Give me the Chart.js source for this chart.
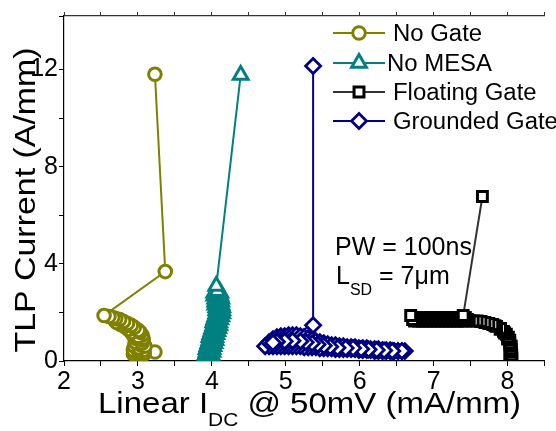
<!DOCTYPE html>
<html>
<head>
<meta charset="utf-8">
<script src="https://cdn.jsdelivr.net/npm/chart.js@4.4.1/dist/chart.umd.min.js"></script>
<style>
html,body{margin:0;padding:0;background:#fff;}
#wrap{width:556px;height:431px;position:relative;}
</style>
</head>
<body>
<div id="wrap"><canvas id="c" width="556" height="431"></canvas></div>
<script>
// ---- data: [Linear I_DC (mA/mm), TLP current (A/mm)] ----
const seriesNames = ["No Gate", "No MESA", "Floating Gate", "Grounded Gate"];

const noGatePoints = [
  [3.23,0.37],
  [3.083,0.285],[3.057,0.244],[3.017,0.203],[2.991,0.244],[2.978,0.285],[2.938,0.285],[2.991,0.366],
  [3.083,0.325],[2.964,0.366],[3.044,0.448],
  [2.938,0.448],[3.004,0.448],[3.083,0.448],[2.951,0.61],[3.017,0.529],[3.044,0.651],[3.096,0.61],
  [2.991,0.732],[3.044,0.854],
  [2.964,0.773],[3.057,0.732],[3.07,0.854],[2.964,0.936],[3.07,0.936],[2.938,1.058],[3.057,1.058],
  [3.004,1.017],[2.938,1.221],[2.872,1.343],
  [2.911,1.18],[3.03,1.18],[2.872,1.302],[3.004,1.261],[2.951,1.383],[2.819,1.424],[2.911,1.465],
  [2.74,1.587],[2.687,1.668],
  [2.766,1.505],[2.859,1.546],[2.806,1.627],[2.713,1.587],[2.753,1.709],[2.7,1.749],[2.66,1.79],
  [2.608,1.831],[2.542,1.871],
  [3.37,3.68],[3.23,11.8]
];

const noMesaPoints = [
  [3.915,0.122],[3.995,0.122],[3.955,0.183],[3.915,0.244],[3.995,0.244],[3.955,0.305],
  [3.929,0.366],[4.008,0.366],[3.968,0.427],[3.929,0.488],[4.008,0.488],[3.968,0.549],
  [3.942,0.61],[4.021,0.61],[3.981,0.671],[3.955,0.732],[4.034,0.732],[3.995,0.793],
  [3.968,0.854],[4.048,0.854],[4.008,0.915],[3.968,0.976],[4.048,0.976],[4.008,1.037],
  [3.981,1.098],[4.061,1.098],[4.021,1.159],[3.995,1.221],[4.074,1.221],[4.034,1.282],
  [4.008,1.343],[4.087,1.343],[4.048,1.404],[4.021,1.465],[4.1,1.465],[4.061,1.526],
  [4.021,1.587],[4.1,1.587],[4.061,1.648],[4.034,1.709],[4.114,1.709],[4.074,1.77],
  [4.048,1.831],[4.127,1.831],[4.087,1.892],[4.061,1.953],[4.14,1.953],[4.1,2.014],
  [4.061,2.075],[4.14,2.075],[4.1,2.136],[4.061,2.197],[4.14,2.197],[4.1,2.258],
  [4.048,2.319],[4.127,2.319],[4.087,2.38],[4.048,2.441],[4.127,2.441],[4.087,2.502],
  [4.048,2.563],[4.127,2.563],[4.087,2.624],[4.034,2.685],[4.114,2.685],[4.074,2.746],
  [4.034,2.807],[4.114,2.807],[4.074,2.868],
  [4.06,3.09],[4.39,11.77]
];

const floatingPoints = [
  [8.057,0.041],[8.057,0.122],[8.03,0.18],[8.057,0.244],[8.05,0.366],[8.04,0.43],[8.05,0.488],
  [8.05,0.61],[8.03,0.67],[8.03,0.732],[8.03,0.854],[8.0,0.9],[8.011,0.976],[7.984,1.098],
  [7.96,1.15],[7.945,1.221],[7.9,1.3],[7.905,1.343],[7.852,1.424],[7.83,1.45],[7.8,1.505],
  [7.747,1.546],[7.694,1.587],[7.641,1.627],[7.588,1.648],[7.535,1.648],[7.482,1.668],
  [7.456,1.709],[7.429,1.648],[7.429,1.79],[7.403,1.709],[7.377,1.648],[7.377,1.79],
  [7.35,1.709],[7.324,1.648],[7.324,1.79],[7.297,1.709],[7.271,1.648],[7.271,1.79],
  [7.245,1.709],[7.218,1.648],[7.218,1.79],[7.192,1.709],[7.165,1.648],[7.165,1.79],
  [7.139,1.709],[7.112,1.648],[7.112,1.79],[7.086,1.709],[7.059,1.648],[7.059,1.79],
  [7.033,1.709],[7.007,1.648],[7.007,1.79],[6.98,1.709],[6.954,1.648],[6.954,1.79],
  [6.927,1.709],[6.901,1.648],[6.901,1.79],[6.875,1.709],[6.848,1.648],[6.848,1.79],
  [6.822,1.709],[6.795,1.648],[6.795,1.79],[6.769,1.709],[6.742,1.648],[6.742,1.79],
  [6.716,1.709],
  [6.69,1.871],[7.4,1.871],[7.66,6.77]
];

const groundedPoints = [
  // lower edge of the cluster, right to left
  [6.61,0.407],[6.571,0.407],[6.518,0.407],[6.465,0.407],[6.412,0.407],[6.359,0.407],[6.307,0.407],
  [6.254,0.407],[6.201,0.407],[6.148,0.448],[6.095,0.448],[6.042,0.448],[5.989,0.448],[5.937,0.488],
  [5.884,0.488],[5.831,0.488],[5.778,0.488],[5.725,0.488],[5.672,0.488],[5.62,0.529],[5.567,0.529],
  [5.514,0.529],[5.461,0.529],[5.408,0.57],[5.355,0.57],[5.303,0.57],[5.25,0.57],[5.197,0.61],
  [5.144,0.61],[5.091,0.61],[5.038,0.61],[4.985,0.61],[4.933,0.61],[4.88,0.61],[4.827,0.61],
  [4.774,0.61],[4.721,0.61],
  // upper edge, left to right
  [4.774,0.773],[4.827,0.895],[4.88,0.976],[4.933,1.017],[4.985,1.017],[5.038,1.058],[5.091,1.058],
  [5.144,1.058],[5.197,1.017],[5.25,0.976],[5.303,0.936],[5.355,0.895],[5.408,0.814],[5.461,0.773],
  [5.514,0.732],[5.567,0.692],[5.62,0.651],[5.672,0.651],[5.725,0.61],[5.778,0.61],[5.831,0.57],
  [5.884,0.57],[5.937,0.57],[5.989,0.529],[6.042,0.529],[6.095,0.529],[6.148,0.488],[6.201,0.488],
  [6.254,0.488],[6.307,0.448],[6.359,0.448],[6.412,0.448],[6.465,0.407],[6.518,0.407],[6.571,0.407],
  // middle, right to left
  [6.44,0.41],[6.33,0.43],[6.23,0.45],[6.12,0.47],[6.02,0.49],[5.91,0.53],[5.81,0.53],[5.7,0.55],
  [5.6,0.59],[5.514,0.63],[5.43,0.68],[5.355,0.73],[5.27,0.77],[5.197,0.81],[5.091,0.83],
  [4.985,0.81],[4.88,0.79],[4.827,0.75],
  [5.37,1.47],[5.37,12.14]
];

const xTickValues = [2, 3, 4, 5, 6, 7, 8];
const yTickValues = [0, 4, 8, 12];

const annotationLines = ["PW = 100ns", "L|SD| = 7\u03bcm"];
const xTitleParts = ["Linear I", "DC", " @ 50mV (mA/mm)"];
const yTitle = "TLP Current (A/mm)";

// ---- styles ----
const FONT = "'Liberation Sans', Arial, sans-serif";
const colors = ["#808000", "#008080", "#000000", "#000080"];
const lineColors = ["#808000", "#008080", "#333333", "#000080"];
const pStyles = ["circle", "triangle", "rect", "rectRot"];
const pRadius = [6.3, 8.5, 7, 7.5];
const pBorder = [3, 3, 3, 2.8];

const allPoints = [noGatePoints, noMesaPoints, floatingPoints, groundedPoints];

const datasets = allPoints.map((arr,i)=>({
  label: seriesNames[i],
  data: arr.map(p=>({x:p[0], y:p[1]})),
  showLine: true,
  borderColor: lineColors[i],
  borderWidth: 2,
  pointStyle: pStyles[i],
  pointRadius: pRadius[i],
  pointBorderWidth: pBorder[i],
  pointBorderColor: colors[i],
  pointBackgroundColor: "#ffffff",
  fill: false,
  tension: 0
}));

function drawStyledText(ctx, text, x, y, size, stretch, align){
  ctx.save();
  ctx.font = size + "px " + FONT;
  const w = ctx.measureText(text).width * stretch;
  let sx = x;
  if (align === "center") sx = x - w/2;
  else if (align === "right") sx = x - w;
  ctx.translate(sx, y);
  ctx.scale(stretch, 1);
  ctx.textAlign = "left";
  ctx.textBaseline = "alphabetic";
  ctx.fillText(text, 0, 0);
  ctx.restore();
  return w;
}

const overlay = {
  id: "overlay",
  afterDraw(chart){
    const ctx = chart.ctx;
    ctx.save();
    ctx.fillStyle = "#000";
    // legend
    const legY = [33, 63, 92, 121];
    const legTextX = [393, 387, 393, 393];
    for (let i=0;i<4;i++){
      ctx.strokeStyle = lineColors[i];
      ctx.lineWidth = 2;
      ctx.beginPath(); ctx.moveTo(333, legY[i]); ctx.lineTo(385, legY[i]); ctx.stroke();
      ctx.fillStyle = "#fff";
      ctx.strokeStyle = colors[i];
      ctx.lineWidth = pBorder[i];
      Chart.helpers.drawPoint(ctx, {pointStyle: pStyles[i], radius: pRadius[i], borderWidth: pBorder[i]}, 359, legY[i]);
      ctx.fillStyle = "#000";
      drawStyledText(ctx, seriesNames[i], legTextX[i], legY[i] + 8, 23, 1.04, "left");
    }
    // annotation
    ctx.fillStyle = "#000";
    drawStyledText(ctx, annotationLines[0], 335, 255, 25, 1.0, "left");
    const parts = annotationLines[1].split("|");
    let x = 336;
    x += drawStyledText(ctx, parts[0], x, 284, 25, 1.0, "left");
    x += drawStyledText(ctx, parts[1], x, 295, 16, 1.0, "left");
    drawStyledText(ctx, parts[2], x, 284, 25, 1.0, "left");
    // x title
    let tx = 98;
    tx += drawStyledText(ctx, xTitleParts[0], tx, 413, 30, 1.1, "left");
    tx += drawStyledText(ctx, xTitleParts[1], tx, 426, 19, 1.1, "left");
    drawStyledText(ctx, xTitleParts[2], tx, 413, 30, 1.1, "left");
    // y title
    ctx.save();
    ctx.translate(35, 200);
    ctx.rotate(-Math.PI/2);
    drawStyledText(ctx, yTitle, 0, 0, 30, 1.13, "center");
    ctx.restore();
    ctx.restore();
  }
};

const tickFont = {family: FONT, size: 25};

new Chart(document.getElementById("c"), {
  type: "scatter",
  data: { datasets: datasets },
  options: {
    responsive: false,
    animation: false,
    events: [],
    layout: { padding: {left:0, right:0, top:0, bottom:0} },
    plugins: { legend: {display:false}, tooltip: {enabled:false} },
    scales: {
      x: {
        type: "linear", position: "bottom",
        min: 2, max: 8.5,
        afterFit(s){ s.height = 70; },
        border: {display:true, color:"#000", width:1.2},
        grid: {drawOnChartArea:false, drawTicks:true, tickLength:5, color:"#000", tickColor:"#000"},
        ticks: {
          stepSize: 0.5, autoSkip:false, maxRotation:0, padding:1,
          color:"#000", font: tickFont,
          callback(v){ return xTickValues.includes(v) ? String(v) : ""; }
        }
      },
      x2: {
        type: "linear", position: "top",
        min: 2, max: 8.5,
        afterFit(s){ s.height = 12; },
        border: {display:true, color:"#333", width:1.2},
        grid: {drawOnChartArea:false, drawTicks:true, tickLength:4, color:"#333", tickColor:"#333"},
        ticks: {stepSize:0.5, display:false}
      },
      y: {
        type: "linear", position: "left",
        min: 0, max: 14.2,
        afterFit(s){ s.width = 64; },
        border: {display:true, color:"#000", width:1.2},
        grid: {drawOnChartArea:false, drawTicks:true, tickLength:5, color:"#000", tickColor:"#000"},
        ticks: {
          stepSize: 2, autoSkip:false, padding:1,
          color:"#000", font: tickFont,
          callback(v){ return yTickValues.includes(v) ? String(v) : ""; }
        }
      }
    }
  },
  plugins: [overlay]
});
</script>
</body>
</html>
